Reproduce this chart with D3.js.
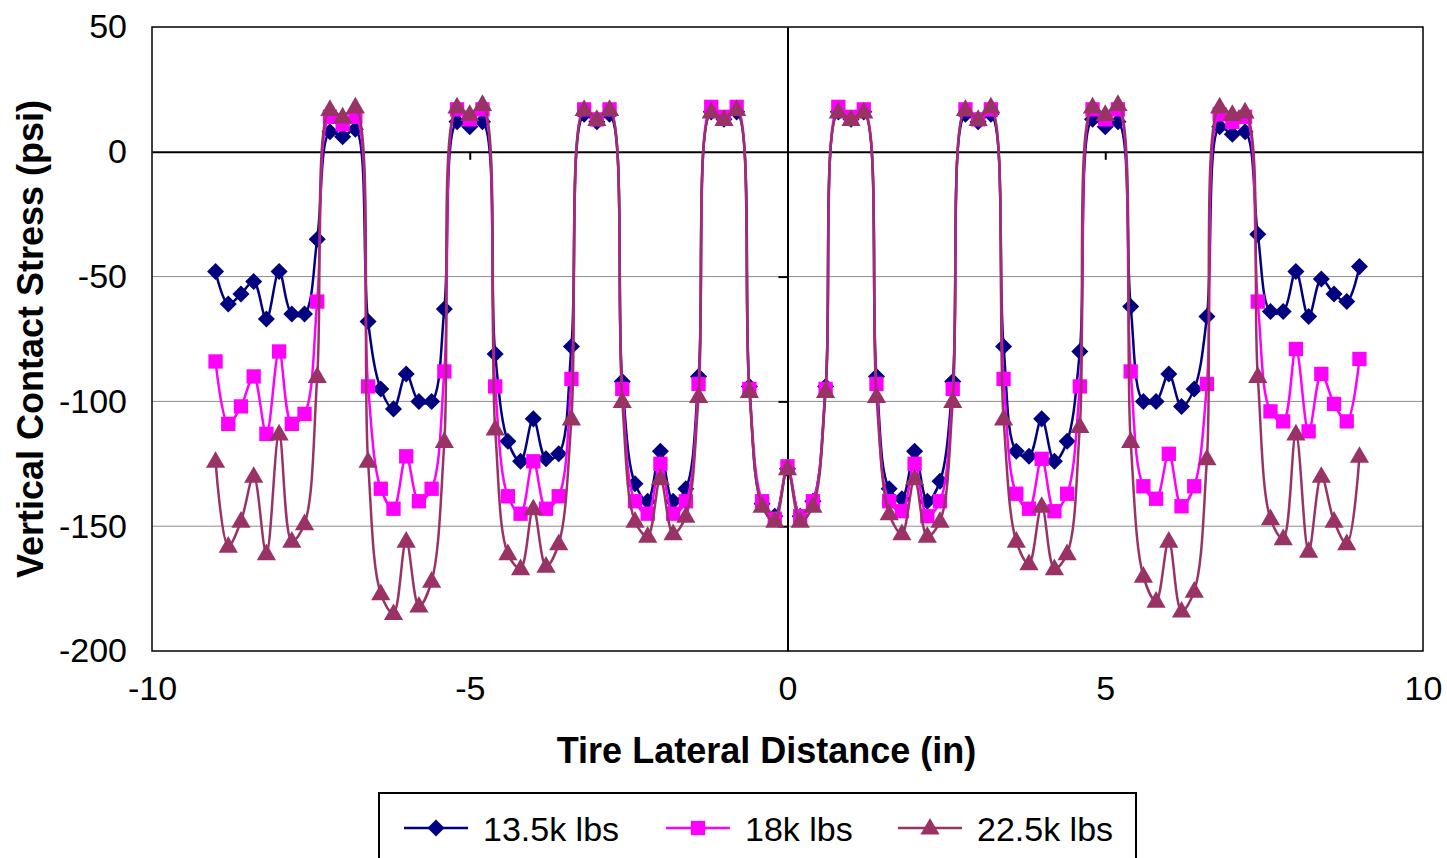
<!DOCTYPE html>
<html>
<head>
<meta charset="utf-8">
<script src="https://cdn.jsdelivr.net/npm/d3@7"></script>
<style>
  body { margin: 0; background: #fff; }
  text { font-family: Arial, "Liberation Sans", sans-serif; }
</style>
</head>
<body>
<svg id="chart" width="1447" height="858"></svg>
<script>
// lateral positions (in)
const lateralX = [
  -9.0, -8.8, -8.6, -8.4, -8.2, -8.0, -7.8, -7.6, -7.4, -7.2, -7.0, -6.8, -6.6, -6.4, -6.2, -6.0,
  -5.8, -5.6, -5.4, -5.2, -5.0, -4.8, -4.6, -4.4, -4.2, -4.0, -3.8, -3.6, -3.4, -3.2, -3.0, -2.8,
  -2.6, -2.4, -2.2, -2.0, -1.8, -1.6, -1.4, -1.2, -1.0, -0.8, -0.6, -0.4, -0.2, 0.0,
  0.2, 0.4, 0.6, 0.8, 1.0, 1.2, 1.4, 1.6, 1.8, 2.0, 2.2, 2.4, 2.6, 2.8, 3.0, 3.2,
  3.4, 3.6, 3.8, 4.0, 4.2, 4.4, 4.6, 4.8, 5.0, 5.2, 5.4, 5.6, 5.8, 6.0, 6.2, 6.4,
  6.6, 6.8, 7.0, 7.2, 7.4, 7.6, 7.8, 8.0, 8.2, 8.4, 8.6, 8.8, 9.0
];

// vertical contact stress (psi)
const stress135 = [
  -48, -61, -57, -52, -67, -48, -65, -65, -35, 8, 6, 9, -68, -95, -103, -89,
  -100, -100, -63, 12, 10, 12, -81, -116, -124, -107, -123, -121, -78, 15, 12, 15,
  -92, -133, -140, -120, -140, -135, -90, 16, 13, 16, -94, -141, -146, -127,
  -146, -140, -94, 16, 13, 16, -90, -135, -139, -120, -140, -132, -92, 15, 12, 15,
  -78, -120, -122, -107, -124, -116, -80, 13, 10, 12, -62, -100, -100, -89, -102, -95,
  -66, 10, 7, 8, -33, -64, -64, -48, -66, -51, -57, -60, -46
];

const stress18 = [
  -84, -109, -102, -90, -113, -80, -109, -105, -60, 14, 11, 14, -94, -135, -143, -122,
  -140, -135, -88, 17, 13, 17, -94, -138, -145, -124, -143, -138, -91, 17, 13, 17,
  -95, -140, -145, -125, -145, -140, -93, 18, 14, 18, -95, -140, -147, -126,
  -146, -140, -95, 18, 14, 17, -93, -140, -144, -125, -146, -140, -95, 17, 13, 17,
  -91, -137, -143, -123, -144, -137, -94, 17, 13, 17, -88, -134, -139, -121, -142, -134,
  -93, 15, 12, 14, -60, -104, -108, -79, -112, -89, -101, -108, -83
];

const stress225 = [
  -124, -158, -148, -130, -161, -113, -156, -149, -90, 17, 14, 18, -124, -177, -185, -156,
  -182, -172, -116, 18, 15, 19, -111, -161, -167, -143, -166, -157, -107, 17, 13, 17,
  -100, -148, -154, -131, -153, -146, -98, 16, 13, 17, -96, -142, -148, -127,
  -148, -142, -96, 16, 13, 16, -98, -145, -153, -131, -154, -148, -100, 17, 13, 18,
  -107, -156, -165, -142, -167, -161, -110, 18, 15, 19, -116, -170, -180, -156, -184, -176,
  -123, 18, 15, 16, -90, -147, -155, -113, -160, -130, -148, -157, -122
];

const seriesNames = ["13.5k lbs", "18k lbs", "22.5k lbs"];
const xTicks = [-10, -5, 0, 5, 10];
const yTicks = [-200, -150, -100, -50, 0, 50];
const gridValues = [-150, -100, -50];

const seriesList = [
  {name: seriesNames[0], values: stress135, color: "#000080", shape: "diamond"},
  {name: seriesNames[1], values: stress18, color: "#ff00ff", shape: "square"},
  {name: seriesNames[2], values: stress225, color: "#993366", shape: "triangle"}
];

const svg = d3.select("#chart");
const plotLeft = 152, plotRight = 1423, plotTop = 27, plotBottom = 651;

const x = d3.scaleLinear().domain([-10, 10]).range([plotLeft, plotRight]);
const y = d3.scaleLinear().domain([-200, 50]).range([plotBottom, plotTop]);

// plain hyphen minus, like the original
const plainFormat = d => String(d);

// marker path generators
function markerPath(shape) {
    if (shape === "diamond") return d3.symbol().type(d3.symbolSquare).size(145)();
    if (shape === "square") return d3.symbol().type(d3.symbolSquare).size(205)();
    return d3.symbol().type(d3.symbolTriangle).size(160)();
}
function markerTransform(shape, px, py) {
    if (shape === "diamond") return `translate(${px},${py}) rotate(45)`;
    if (shape === "triangle") return `translate(${px},${py + 1})`;
    return `translate(${px},${py})`;
}

// gridlines
svg.append("g")
    .selectAll("line")
    .data(gridValues)
    .join("line")
    .attr("x1", plotLeft).attr("x2", plotRight)
    .attr("y1", d => y(d)).attr("y2", d => y(d))
    .attr("stroke", "#8c8c8c")
    .attr("stroke-width", 1);

// zero lines with ticks
const xZero = svg.append("g")
    .attr("transform", `translate(0,${y(0)})`)
    .call(d3.axisBottom(x).tickValues([-5, 5]).tickFormat("").tickSize(8).tickSizeOuter(0));
xZero.select(".domain").attr("stroke", "#000").attr("stroke-width", 2);
xZero.selectAll(".tick line").attr("stroke", "#000").attr("stroke-width", 2);

const yZero = svg.append("g")
    .attr("transform", `translate(${x(0)},0)`)
    .call(d3.axisLeft(y).tickValues([-150, -100, -50]).tickFormat("").tickSize(9).tickSizeOuter(0));
yZero.select(".domain").attr("stroke", "#000").attr("stroke-width", 2);
yZero.selectAll(".tick line").attr("stroke", "#000").attr("stroke-width", 2);

// plot border
svg.append("rect")
    .attr("x", plotLeft).attr("y", plotTop)
    .attr("width", plotRight - plotLeft).attr("height", plotBottom - plotTop)
    .attr("fill", "none")
    .attr("stroke", "#000")
    .attr("stroke-width", 1.5);

// tick labels
const yAxis = svg.append("g")
    .attr("transform", `translate(${plotLeft},0)`)
    .call(d3.axisLeft(y).tickValues(yTicks).tickFormat(plainFormat).tickSize(0).tickPadding(25));
yAxis.select(".domain").remove();
yAxis.selectAll("text")
    .attr("font-size", 34)
    .attr("fill", "#000")
    .style("font-family", "Arial, 'Liberation Sans', sans-serif");

const xAxis = svg.append("g")
    .attr("transform", `translate(0,${plotBottom})`)
    .call(d3.axisBottom(x).tickValues(xTicks).tickFormat(plainFormat).tickSize(0).tickPadding(25));
xAxis.select(".domain").remove();
xAxis.selectAll("text")
    .attr("font-size", 34)
    .attr("fill", "#000")
    .style("font-family", "Arial, 'Liberation Sans', sans-serif");

// series
const line = d3.line()
    .x((d, i) => x(lateralX[i]))
    .y(d => y(d))
    .curve(d3.curveCatmullRom.alpha(0.5));

seriesList.forEach(s => {
    const g = svg.append("g");
    g.append("path")
        .attr("d", line(s.values))
        .attr("fill", "none")
        .attr("stroke", s.color)
        .attr("stroke-width", 2.5);
    g.selectAll("path.mk")
        .data(s.values)
        .join("path")
        .attr("class", "mk")
        .attr("d", markerPath(s.shape))
        .attr("transform", (d, i) => markerTransform(s.shape, x(lateralX[i]), y(d)))
        .attr("fill", s.color);
});

// axis titles
svg.append("text")
    .attr("x", (plotLeft + plotRight) / 2 - 21)
    .attr("y", 763)
    .attr("text-anchor", "middle")
    .attr("font-size", 36)
    .attr("font-weight", "bold")
    .text("Tire Lateral Distance (in)");

svg.append("text")
    .attr("transform", `translate(43,${(plotTop + plotBottom) / 2}) rotate(-90)`)
    .attr("text-anchor", "middle")
    .attr("font-size", 36)
    .attr("font-weight", "bold")
    .text("Vertical Contact Stress (psi)");

// legend
const legend = svg.append("g");
legend.append("rect")
    .attr("x", 379).attr("y", 793)
    .attr("width", 757).attr("height", 90)
    .attr("fill", "#fff")
    .attr("stroke", "#000")
    .attr("stroke-width", 2);

const legendX = [404, 666, 898];
seriesList.forEach((s, i) => {
    const lg = legend.append("g").attr("transform", `translate(${legendX[i]},828)`);
    lg.append("line")
        .attr("x1", 0).attr("x2", 64)
        .attr("stroke", s.color)
        .attr("stroke-width", 2.5);
    lg.append("path")
        .attr("d", markerPath(s.shape))
        .attr("transform", markerTransform(s.shape, 32, 0))
        .attr("fill", s.color);
    lg.append("text")
        .attr("x", 79)
        .attr("y", 13)
        .attr("font-size", 34)
        .text(s.name);
});
</script>
</body>
</html>
